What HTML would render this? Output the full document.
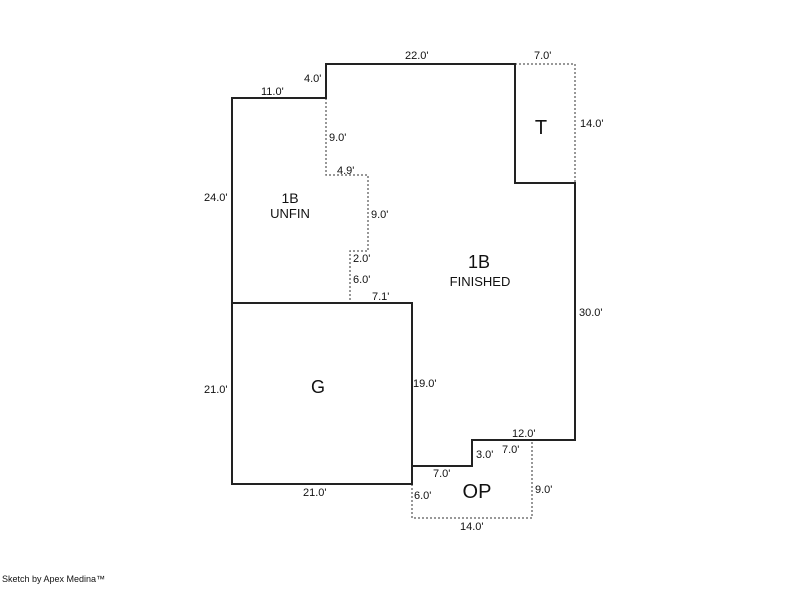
<!DOCTYPE html>
<html><head><style>
body{margin:0;background:#fff}
svg text{font-family:"Liberation Sans",sans-serif;fill:#111}
</style></head><body>
<svg width="800" height="587" xmlns="http://www.w3.org/2000/svg">
<g fill="none" stroke="#777" stroke-width="1.5" stroke-dasharray="2,2">
<polyline points="326,98 326,175 368,175 368,251 350,251 350,303"/>
<polyline points="515,64 575,64 575,183"/>
<polyline points="412,484 412,518 532,518 532,440"/>
</g>
<g fill="none" stroke="#222" stroke-width="2">
<polyline points="232,303 232,98 326,98 326,64 515,64 515,183 575,183 575,440 472,440 472,466 412,466 412,303 232,303"/>
<rect x="232" y="303" width="180" height="181"/>
</g>
<g font-size="11">
<text x="405" y="59">22.0'</text>
<text x="534" y="59">7.0'</text>
<text x="304" y="82">4.0'</text>
<text x="261" y="95">11.0'</text>
<text x="580" y="127">14.0'</text>
<text x="329" y="141">9.0'</text>
<text x="337" y="174">4.9'</text>
<text x="204" y="201">24.0'</text>
<text x="371" y="218">9.0'</text>
<text x="353" y="262">2.0'</text>
<text x="353" y="283">6.0'</text>
<text x="372" y="300">7.1'</text>
<text x="579" y="316">30.0'</text>
<text x="413" y="387">19.0'</text>
<text x="204" y="393">21.0'</text>
<text x="512" y="437">12.0'</text>
<text x="502" y="453">7.0'</text>
<text x="476" y="458">3.0'</text>
<text x="433" y="477">7.0'</text>
<text x="535" y="493">9.0'</text>
<text x="303" y="496">21.0'</text>
<text x="414" y="499">6.0'</text>
<text x="460" y="530">14.0'</text>
</g>
<g text-anchor="middle">
<text x="290" y="203" font-size="14">1B</text>
<text x="290" y="218" font-size="13">UNFIN</text>
<text x="479" y="268" font-size="18">1B</text>
<text x="480" y="286" font-size="13">FINISHED</text>
<text x="541" y="134" font-size="20">T</text>
<text x="318" y="393" font-size="18">G</text>
<text x="477" y="498" font-size="20">OP</text>
</g>
<text x="2" y="582" font-size="9">Sketch by Apex Medina™</text>
</svg>
</body></html>
